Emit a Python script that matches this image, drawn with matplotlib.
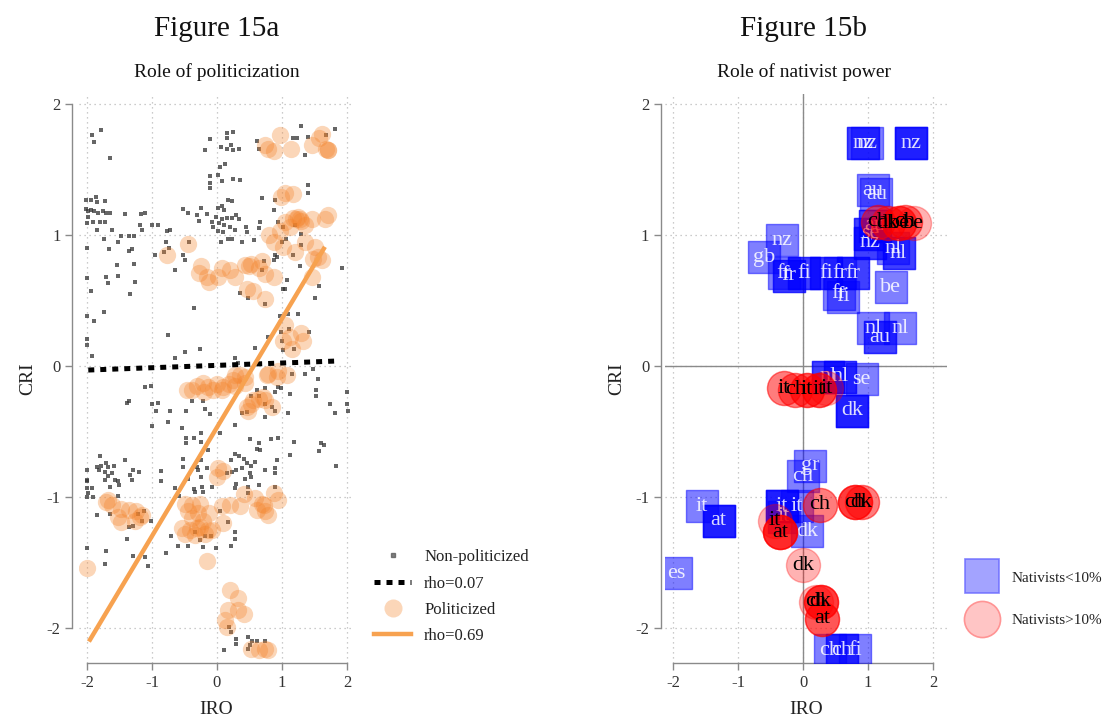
import numpy as np
import matplotlib.pyplot as plt
from matplotlib.lines import Line2D

plt.rcParams['font.family'] = ['Liberation Serif', 'DejaVu Serif']
plt.rcParams['axes.unicode_minus'] = False

# ---- Figure 15a: non-politicized country-years (IRO, CRI)
nonpol = [
    (-1.92, 1.76), (-1.89, 1.71), (-1.78, 1.80), (-1.64, 1.59), (-2.01, 1.27), (-1.94, 1.27),
    (-1.86, 1.29), (-1.85, 1.25), (-1.73, 1.26), (-2.01, 1.20), (-1.98, 1.18), (-1.94, 1.19),
    (-1.89, 1.18), (-1.83, 1.17), (-1.75, 1.18), (-1.70, 1.17), (-1.65, 1.17), (-1.99, 1.14),
    (-1.90, 1.10), (-1.80, 1.10), (-1.72, 1.10), (-2.00, 1.09), (-1.41, 1.16), (-1.17, 1.16),
    (-1.11, 1.17), (-1.19, 1.08), (-1.00, 1.08), (-0.91, 1.08), (-1.16, 1.04), (-0.77, 1.03),
    (-0.72, 1.04), (-1.84, 1.04), (-1.61, 1.04), (-1.48, 0.99), (-1.35, 0.99), (-1.27, 0.99),
    (-1.74, 0.97), (-1.53, 0.95), (-1.36, 0.88), (-1.30, 0.89), (-1.66, 0.89), (-2.00, 0.90),
    (-1.54, 0.77), (-1.28, 0.78), (-1.70, 0.68), (-1.52, 0.69), (-1.67, 0.63), (-1.26, 0.64),
    (-2.00, 0.67), (-1.94, 0.57), (-1.34, 0.55), (-2.00, 0.38), (-1.89, 0.34), (-1.74, 0.41),
    (-2.00, 0.21), (-2.00, 0.16), (-1.92, 0.08), (-0.76, 0.24), (-0.95, 0.85), (-0.81, 0.87),
    (-0.79, 0.95), (-0.74, 0.90), (-0.53, 0.85), (-0.49, 0.81), (-0.64, 0.73), (-0.43, 0.95),
    (-0.36, 0.44), (-0.49, 0.11), (-0.65, 0.06), (-0.26, 0.13), (-0.52, 1.20), (-0.45, 1.17),
    (-0.30, 1.15), (-0.25, 1.21), (-0.28, 1.11), (-0.16, 1.16), (-0.08, 1.10), (-0.06, 1.06),
    (-0.10, 1.45), (-0.10, 1.40), (-0.10, 1.36), (-0.10, 1.73), (-0.18, 1.65),
    (0.15, 1.78), (0.25, 1.79), (0.16, 1.74), (0.21, 1.69), (0.16, 1.66), (0.25, 1.65),
    (0.34, 1.66), (0.06, 1.67), (0.61, 1.72), (0.64, 1.66), (1.29, 1.83), (1.23, 1.74),
    (1.17, 1.74), (1.40, 1.75), (1.67, 1.76), (1.82, 1.81), (1.36, 1.61), (0.12, 1.54),
    (0.05, 1.52), (0.02, 1.46), (0.25, 1.43), (0.35, 1.42), (0.07, 1.41), (0.17, 1.27),
    (0.23, 1.26), (0.08, 1.22), (0.02, 1.21), (0.11, 1.19), (-0.01, 1.14), (0.07, 1.12),
    (0.15, 1.13), (0.23, 1.13), (0.29, 1.15), (0.34, 1.12), (0.03, 1.09), (0.11, 1.08),
    (0.20, 1.06), (0.01, 1.03), (0.10, 1.02), (0.28, 1.04), (0.44, 1.06), (0.46, 1.02),
    (0.17, 0.97), (0.23, 0.97), (0.06, 0.95), (0.39, 0.95), (0.57, 0.96), (0.66, 1.10),
    (0.65, 1.05), (0.69, 1.28), (0.89, 1.27), (0.88, 1.19), (0.94, 1.10), (1.02, 1.06),
    (1.06, 0.97), (1.00, 0.95), (1.40, 1.38), (1.40, 1.32), (1.20, 1.08), (1.29, 1.01),
    (1.30, 0.92), (1.17, 0.85), (1.28, 0.76), (0.89, 0.85), (0.93, 0.83), (0.88, 0.81),
    (0.73, 0.80), (0.70, 0.73), (1.93, 0.75), (1.57, 0.61), (1.51, 0.52), (1.07, 0.66),
    (1.05, 0.59), (1.02, 0.59), (0.35, 0.56), (0.47, 0.52), (0.74, 0.47), (1.10, 0.40),
    (1.25, 0.40), (0.97, 0.38), (0.79, 0.22), (0.98, 0.26), (1.11, 0.28), (1.00, 0.19),
    (1.02, 0.12), (1.19, 0.13), (1.42, 0.26), (0.58, 0.14), (0.27, 0.06), (0.33, 0.02),
    (1.47, -0.02), (1.56, -0.10), (1.15, -0.06), (1.36, -0.06),
    (0.61, -0.18), (0.74, -0.17), (0.94, -0.16), (0.99, -0.17), (0.89, -0.20), (0.53, -0.23),
    (0.64, -0.23), (0.74, -0.29), (0.84, -0.31), (0.89, -0.34), (0.38, -0.36), (0.46, -0.35),
    (0.74, -0.39), (0.28, -0.45), (1.10, -0.36), (1.13, -0.21), (1.53, -0.18), (1.53, -0.23),
    (1.74, -0.29), (1.82, -0.36), (2.00, -0.20), (2.00, -0.29), (2.01, -0.34), (0.05, -0.51),
    (0.51, -0.56), (0.64, -0.59), (0.66, -0.64), (0.61, -0.63), (0.83, -0.56), (0.94, -0.55),
    (1.19, -0.58), (0.28, -0.67), (0.34, -0.69), (0.22, -0.72), (0.41, -0.71), (0.46, -0.74),
    (0.53, -0.76), (0.58, -0.73), (0.38, -0.78), (0.29, -0.79), (0.23, -0.81), (0.15, -0.82),
    (0.51, -0.82), (0.53, -0.85), (0.43, -0.86), (0.74, -0.79), (0.90, -0.78), (0.90, -0.82),
    (0.93, -0.72), (1.12, -0.68), (1.60, -0.59), (1.64, -0.60), (1.57, -0.65), (1.83, -0.76),
    (0.30, -0.90), (0.28, -0.93), (0.48, -0.92), (0.64, -0.91), (0.89, -0.92), (0.48, -0.97),
    (0.05, -1.11), (0.17, -1.19), (0.27, -1.27), (0.27, -1.32), (0.22, -1.37), (-0.01, -1.39),
    (0.18, -1.99), (0.22, -2.03), (0.11, -2.17), (0.29, -2.08), (0.29, -2.12), (0.47, -2.07),
    (0.51, -2.13), (0.54, -2.10), (0.61, -2.10), (0.74, -2.10), (0.47, -2.16),
    (-1.10, -0.16), (-1.02, -0.15), (-1.39, -0.28), (-1.35, -0.27), (-1.00, -0.29),
    (-0.90, -0.28), (-0.94, -0.34), (-0.72, -0.34), (-0.47, -0.34), (-0.39, -0.27),
    (-0.21, -0.27), (-0.19, -0.33), (-0.11, -0.37), (-1.00, -0.46), (-0.76, -0.43),
    (-0.54, -0.47), (-0.47, -0.55), (-0.47, -0.59), (-0.35, -0.55), (-0.24, -0.51),
    (-0.25, -0.58), (-0.14, -0.64), (-0.53, -0.71), (-0.53, -0.77), (-0.31, -0.77),
    (-0.29, -0.79), (-0.24, -0.72), (-0.16, -0.78), (-0.86, -0.80), (-0.86, -0.88),
    (-0.65, -0.93), (-0.59, -0.99), (-0.44, -0.86), (-0.36, -0.94), (-0.24, -0.85),
    (-0.23, -0.92), (-0.34, -0.96), (-0.21, -0.96), (-0.08, -0.92), (-1.80, -0.69),
    (-1.85, -0.77), (-1.78, -0.76), (-1.70, -0.74), (-1.67, -0.77), (-1.58, -0.76),
    (-1.82, -0.79), (-1.72, -0.81), (-1.67, -0.84), (-1.62, -0.82), (-1.57, -0.87),
    (-1.53, -0.88), (-1.51, -0.91), (-1.65, -0.92), (-1.73, -0.87), (-1.41, -0.72),
    (-1.29, -0.79), (-1.20, -0.81), (-1.34, -0.83), (-1.31, -0.87), (-2.00, -0.79),
    (-2.00, -0.87), (-2.00, -0.88), (-2.00, -0.93), (-1.98, -0.97), (-1.92, -0.93),
    (-2.00, -1.00), (-1.90, -1.00), (-1.52, -0.99), (-1.84, -1.14), (-1.65, -1.13),
    (-1.36, -1.23), (-1.29, -1.22), (-1.21, -1.13), (-1.16, -1.18), (-1.12, -1.11),
    (-1.02, -1.18), (-1.39, -1.32), (-1.71, -1.41), (-1.72, -1.51), (-2.00, -1.39),
    (-1.29, -1.45), (-1.10, -1.46), (-1.06, -1.53), (-0.79, -1.43), (-0.70, -1.30),
    (-0.60, -1.37), (-0.44, -1.37), (-0.34, -1.27), (-0.26, -1.33), (-0.19, -1.30),
    (-0.09, -1.30), (-0.21, -1.38),
]

# politicized country-years
pol = [
    (0.74, 1.69), (0.79, 1.66), (0.88, 1.64), (0.97, 1.76), (1.14, 1.66), (1.46, 1.69),
    (1.57, 1.74), (1.71, 1.65), (1.71, 1.65), (1.61, 1.77), (1.68, 1.66),
    (0.99, 1.29), (1.17, 1.31), (1.05, 1.32),
    (1.05, 1.10), (1.17, 1.13), (1.25, 1.14), (1.30, 1.11), (1.46, 1.12), (1.66, 1.12),
    (1.71, 1.15), (1.12, 1.06), (1.35, 1.08), (0.97, 1.03), (0.80, 1.00), (0.87, 0.95),
    (1.02, 0.91), (1.20, 0.87), (1.35, 0.95), (1.51, 0.91), (1.47, 0.82), (1.56, 0.83),
    (1.61, 0.81), (1.46, 0.68), (1.22, 1.12), (1.28, 1.12),
    (0.07, 0.75), (0.20, 0.73), (0.28, 0.68), (0.43, 0.77), (0.53, 0.78), (0.64, 0.75),
    (0.69, 0.80), (0.74, 0.70), (0.87, 0.68), (0.46, 0.59), (0.56, 0.57), (0.74, 0.51),
    (0.02, 0.68), (-0.24, 0.76), (-0.28, 0.71), (-0.16, 0.68), (-0.13, 0.64), (0.50, 0.76),
    (-0.77, 0.85), (-0.44, 0.93),
    (1.05, 0.31), (1.12, 0.22), (1.30, 0.25), (1.33, 0.19), (1.15, 0.13), (1.02, 0.19),
    (-0.46, -0.18), (-0.38, -0.18), (-0.21, -0.13), (-0.06, -0.18), (0.09, -0.16),
    (0.25, -0.11), (0.35, -0.07), (0.07, -0.18), (0.28, -0.15), (0.43, -0.13),
    (-0.30, -0.15), (-0.14, -0.16), (0.00, -0.14), (0.18, -0.14), (-0.20, -0.20),
    (0.53, -0.29), (0.64, -0.25), (0.74, -0.26), (0.84, -0.31), (0.48, -0.34),
    (0.56, -0.26), (0.71, -0.24), (0.46, -0.31), (0.92, -0.08), (0.77, -0.07),
    (1.08, -0.07), (0.28, -0.07), (0.43, -0.08), (0.79, -0.06), (0.94, -0.04),
    (0.00, -0.85), (0.02, -0.78), (0.10, -0.80),
    (0.07, -1.07), (0.20, -1.06), (0.35, -1.07), (0.41, -0.98), (0.58, -1.01),
    (0.69, -1.05), (0.74, -1.11), (0.87, -0.97), (0.94, -1.02), (0.79, -1.14),
    (0.61, -1.10), (0.72, -1.06), (0.10, -1.20),
    (-1.70, -1.04), (-1.67, -1.02), (-1.62, -1.06), (-1.47, -1.09), (-1.36, -1.10),
    (-1.24, -1.11), (-1.16, -1.14), (-1.52, -1.15), (-1.47, -1.19), (-1.26, -1.18),
    (-1.19, -1.15),
    (-0.49, -1.05), (-0.39, -1.06), (-0.26, -1.05), (-0.44, -1.11), (-0.29, -1.12),
    (-0.13, -1.12), (-0.54, -1.24), (-0.42, -1.25), (-0.26, -1.23), (-0.14, -1.25),
    (-0.49, -1.28), (-0.34, -1.29), (-0.19, -1.28), (-0.08, -1.25), (-0.39, -1.16),
    (-0.21, -1.18), (-0.30, -1.24),
    (-2.00, -1.54), (-0.16, -1.49),
    (0.20, -1.71), (0.33, -1.77), (0.17, -1.86), (0.33, -1.86), (0.41, -1.89),
    (0.12, -1.94), (0.15, -1.99),
    (0.53, -2.16), (0.64, -2.17), (0.74, -2.16), (0.79, -2.17),
]

# linear fits: (slope, intercept, x from, x to)
fit_nonpol = (0.018, 0.005, -1.98, 1.85)
fit_pol = (0.83, -0.468, -1.97, 1.66)
rho_nonpol = 0.07
rho_pol = 0.69

# ---- Figure 15b: country labels (label, IRO, CRI, number of stacked obs)
low_nat = [
    ('nz', 0.92, 1.70, 2), ('nz', 0.98, 1.70, 1), ('nz', 1.66, 1.70, 3),
    ('au', 1.08, 1.34, 1), ('au', 1.13, 1.31, 1),
    ('au', 1.10, 1.07, 2), ('nz', 1.03, 0.94, 2), ('se', 1.03, 1.01, 2),
    ('nl', 1.39, 0.90, 1), ('nl', 1.47, 0.86, 2), ('be', 1.35, 0.60, 1),
    ('nz', -0.33, 0.96, 1), ('gb', -0.60, 0.83, 1),
    ('fr', -0.30, 0.71, 1), ('fr', -0.22, 0.69, 2), ('fi', 0.02, 0.71, 2),
    ('fi', 0.36, 0.71, 2), ('fr', 0.57, 0.71, 1), ('fr', 0.77, 0.71, 2),
    ('fr', 0.55, 0.55, 1), ('fi', 0.62, 0.53, 1),
    ('au', 1.18, 0.22, 2), ('nl', 1.08, 0.29, 1), ('nl', 1.49, 0.29, 1),
    ('nl', 0.38, -0.08, 2), ('nl', 0.57, -0.08, 2), ('se', 0.90, -0.10, 1),
    ('dk', 0.75, -0.34, 3),
    ('gr', 0.11, -0.76, 1), ('ch', 0.00, -0.84, 1),
    ('it', -1.56, -1.07, 1), ('at', -1.30, -1.18, 3), ('es', -1.95, -1.58, 1),
    ('it', -0.33, -1.07, 3), ('it', -0.10, -1.07, 1), ('it', -0.30, -1.15, 1),
    ('dk', 0.06, -1.26, 1),
    ('ch', 0.41, -2.17, 1), ('ch', 0.60, -2.17, 2), ('fi', 0.80, -2.17, 1),
]
high_nat = [
    ('ch', 1.15, 1.10, 2), ('dk', 1.30, 1.09, 2), ('be', 1.48, 1.09, 3),
    ('ch', 1.57, 1.10, 2), ('be', 1.70, 1.09, 1),
    ('it', -0.30, -0.17, 2), ('ch', -0.12, -0.18, 2), ('it', 0.06, -0.18, 3),
    ('it', 0.24, -0.18, 3), ('it', 0.36, -0.17, 1),
    ('ch', 0.26, -1.06, 2), ('ch', 0.80, -1.04, 4), ('dk', 0.90, -1.04, 2),
    ('it', -0.43, -1.18, 1), ('at', -0.35, -1.27, 5),
    ('dk', 0.00, -1.52, 1),
    ('ch', 0.20, -1.80, 1), ('dk', 0.27, -1.80, 4), ('at', 0.29, -1.93, 3),
]

ticks = [-2, -1, 0, 1, 2]

fig = plt.figure(figsize=(11.12, 7.2), dpi=100)
ax1 = fig.add_axes([0.0712, 0.0786, 0.2467, 0.7915])
ax2 = fig.add_axes([0.5982, 0.0786, 0.2537, 0.7915])


def style_axes(ax, xmax):
    ax.set_xlim(-2.12, xmax)
    ax.set_ylim(-2.27, 2.08)
    ax.set_xticks(ticks)
    ax.set_yticks(ticks)
    for s in ['top', 'right']:
        ax.spines[s].set_visible(False)
    ax.spines['left'].set_bounds(-2, 2)
    ax.spines['bottom'].set_bounds(-2, 2)
    for s in ['left', 'bottom']:
        ax.spines[s].set_color('#8a8a8a')
        ax.spines[s].set_linewidth(1.0)
    ax.tick_params(colors='#8a8a8a', labelcolor='#333333', labelsize=12,
                   length=5, width=1.0)
    ax.grid(True, color='#bbbbbb', linestyle=(0, (1, 3)), linewidth=0.9)
    ax.set_axisbelow(True)
    ax.set_xlabel('IRO', fontsize=14, color='#222222', labelpad=7)
    ax.set_ylabel('CRI', fontsize=14, color='#222222', labelpad=7)


style_axes(ax1, 2.10)
ax1.spines['left'].set_position(('outward', 5))
style_axes(ax2, 2.22)
ax2.spines['left'].set_position(('outward', 3))

# left panel
gx, gy = np.array(nonpol).T
px, py = np.array(pol).T
ax1.scatter(gx, gy, marker='s', s=9, color='#333333', alpha=0.75, linewidths=0, zorder=2)
ax1.scatter(px, py, marker='o', s=155, color='#f4832a', alpha=0.33, linewidths=0, zorder=3)

b, a, x0, x1 = fit_nonpol
xs = np.array([x0, x1])
ax1.plot(xs, a + b * xs, color='black', lw=3.6, dashes=(1.2, 1.2), zorder=4)
b, a, x0, x1 = fit_pol
xs = np.array([x0, x1])
ax1.plot(xs, a + b * xs, color='#f7a250', lw=3.2, solid_capstyle='butt', zorder=4)

handles1 = [
    Line2D([], [], marker='s', ls='none', color='#555555', alpha=0.75, markersize=3),
    Line2D([], [], color='black', lw=3.6, dashes=(1.2, 1.2)),
    Line2D([], [], marker='o', ls='none', color='#f4832a', alpha=0.33, markersize=13,
           markeredgewidth=0),
    Line2D([], [], color='#f7a250', lw=3.2),
]
labels1 = ['Non-politicized', 'rho=%.2f' % rho_nonpol, 'Politicized', 'rho=%.2f' % rho_pol]
fig.legend(handles1, labels1, loc='upper left', bbox_to_anchor=(0.323, 0.258),
           frameon=False, fontsize=12, handlelength=2.2, labelspacing=0.62,
           handletextpad=0.8, labelcolor='#222222')

# right panel
ax2.axhline(0, color='#8a8a8a', lw=1.0, zorder=1)
ax2.axvline(0, color='#8a8a8a', lw=1.0, zorder=1)

for lab, x, y, n in low_nat:
    for _ in range(n):
        ax2.scatter([x], [y], marker='s', s=560, color='#0000ff', alpha=0.5,
                    edgecolors='#0000ff', linewidths=1.0, zorder=3)
    ax2.text(x, y, lab, color='white', fontsize=16, ha='center', va='center',
             alpha=0.85, zorder=4)
for lab, x, y, n in high_nat:
    for _ in range(n):
        ax2.scatter([x], [y], marker='o', s=600, color='#ff0000', alpha=0.3,
                    edgecolors='#ff0000', linewidths=1.0, zorder=5)
    ax2.text(x, y, lab, color='black', fontsize=16, ha='center', va='center',
             zorder=6)

handles2 = [
    Line2D([], [], marker='s', ls='none', markersize=24, markerfacecolor=(0.55, 0.55, 1.0),
           markeredgecolor=(0.4, 0.4, 1.0), markeredgewidth=1.2, alpha=0.8),
    Line2D([], [], marker='o', ls='none', markersize=26, markerfacecolor=(1.0, 0.75, 0.75),
           markeredgecolor=(1.0, 0.55, 0.55), markeredgewidth=1.2, alpha=0.9),
]
fig.legend(handles2, ['Nativists<10%', 'Nativists>10%'], loc='upper left',
           bbox_to_anchor=(0.857, 0.226), frameon=False, fontsize=11,
           labelspacing=1.9, handletextpad=0.9, labelcolor='#222222')

# titles
fig.text(0.195, 0.960, 'Figure 15a', ha='center', va='center', fontsize=21, color='#111111')
fig.text(0.195, 0.900, 'Role of politicization', ha='center', va='center', fontsize=14,
         color='#111111')
fig.text(0.723, 0.960, 'Figure 15b', ha='center', va='center', fontsize=21, color='#111111')
fig.text(0.723, 0.900, 'Role of nativist power', ha='center', va='center', fontsize=14,
         color='#111111')

fig.savefig('out.png', dpi=100)
